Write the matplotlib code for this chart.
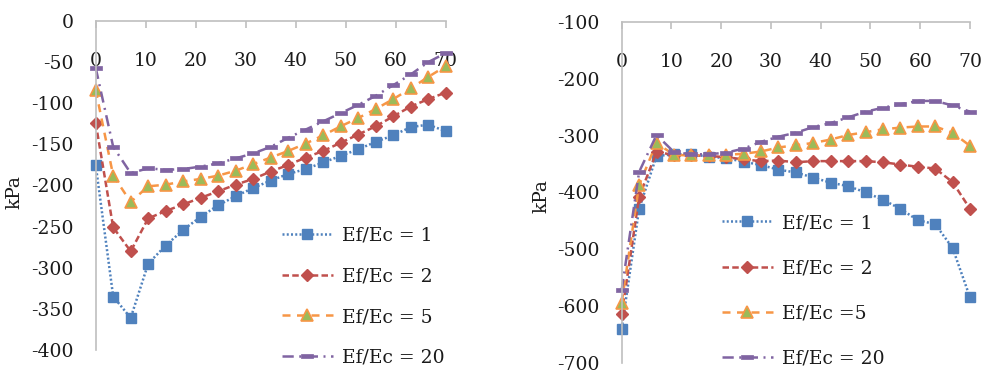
import matplotlib
matplotlib.use("Agg")
import matplotlib.pyplot as plt

plt.rcParams["axes.unicode_minus"] = False

x = [0, 3.5, 7, 10.5, 14, 17.5, 21, 24.5, 28, 31.5, 35, 38.5, 42, 45.5, 49,
     52.5, 56, 59.5, 63, 66.5, 70]

left_r1 = [-175, -335, -361, -295, -273, -254, -238, -224, -213, -203, -194,
           -186, -180, -172, -164, -156, -147, -139, -129, -126, -134]
left_r2 = [-124, -251, -280, -240, -231, -223, -215, -207, -199, -192, -183,
           -175, -166, -158, -148, -138, -128, -116, -104, -95, -87]
left_r5 = [-84, -188, -220, -201, -199, -195, -192, -188, -182, -174, -166,
           -158, -149, -139, -128, -118, -107, -95, -82, -68, -55]
left_r20 = [-57, -153, -185, -179, -181, -180, -177, -173, -167, -161, -153,
            -142, -132, -122, -112, -102, -91, -78, -65, -50, -39]

right_r1 = [-640, -429, -336, -333, -333, -337, -340, -346, -352, -360, -365,
            -374, -383, -389, -400, -413, -429, -449, -456, -498, -585]
right_r2 = [-615, -408, -329, -334, -335, -336, -338, -342, -345, -344, -347,
            -345, -345, -345, -345, -347, -351, -355, -358, -382, -429]
right_r5 = [-594, -387, -313, -334, -335, -335, -334, -332, -328, -321, -317,
            -313, -307, -299, -294, -289, -286, -284, -284, -295, -318]
right_r20 = [-572, -364, -299, -329, -333, -333, -330, -323, -311, -302, -295,
             -285, -278, -268, -258, -251, -245, -239, -239, -247, -258]

left_labels = ["Ef/Ec = 1", "Ef/Ec = 2", "Ef/Ec = 5", "Ef/Ec = 20"]
right_labels = ["Ef/Ec = 1", "Ef/Ec = 2", "Ef/Ec =5", "Ef/Ec = 20"]
x_ticks = [0, 10, 20, 30, 40, 50, 60, 70]
left_yticks = [0, -50, -100, -150, -200, -250, -300, -350, -400]
right_yticks = [-100, -200, -300, -400, -500, -600, -700]
y_label = "kPa"

FONT = "DejaVu Serif"
FS = 13.5
TXT = "#1a1a1a"
AXC = "#bfbfbf"

dash_marker = [(-1, -0.32), (1, -0.32), (1, 0.32), (-1, 0.32), (-1, -0.32)]

styles = [
    dict(color="#4F81BD", ls=(0, (0.8, 0.9)), marker="s", ms=7.5,
         mfc="#4F81BD", mec="#4F81BD", lw=1.8),
    dict(color="#C0504D", ls=(0, (2.6, 1.3)), marker="D", ms=6.5,
         mfc="#C0504D", mec="#C0504D", lw=1.8),
    dict(color="#F79646", ls=(0, (3.2, 2.6)), marker="^", ms=8.5,
         mfc="#9BBB59", mec="#F79646", mew=1.2, lw=1.8),
    dict(color="#8064A2", ls=(0, (4.5, 2.2, 0.8, 2.2)), marker=dash_marker,
         ms=8.5, mfc="#8064A2", mec="#8064A2", mew=0.5, lw=1.8),
]

fig = plt.figure(figsize=(9.85, 3.72), dpi=100)

W, H = 985.0, 372.0


def make_axes(x0, x1, ytop, ybot):
    return fig.add_axes([x0 / W, 1 - ybot / H, (x1 - x0) / W, (ybot - ytop) / H])


def style_axes(ax, ylim, yticks):
    ax.set_xlim(0, 70)
    ax.set_ylim(*ylim)
    ax.set_xticks(x_ticks)
    ax.set_yticks(yticks)
    ax.spines["bottom"].set_visible(False)
    ax.spines["right"].set_visible(False)
    ax.spines["top"].set_color(AXC)
    ax.spines["left"].set_color(AXC)
    ax.spines["top"].set_linewidth(1.2)
    ax.spines["left"].set_linewidth(1.2)
    ax.xaxis.set_ticks_position("top")
    ax.tick_params(axis="x", direction="in", length=5, width=1.2, color=AXC,
                   labeltop=True, labelbottom=False, pad=-35,
                   labelsize=FS, labelcolor=TXT)
    ax.tick_params(axis="y", length=0, pad=16, labelsize=FS, labelcolor=TXT)
    for lab in ax.get_xticklabels() + ax.get_yticklabels():
        lab.set_fontfamily(FONT)
    ax.set_ylabel(y_label, fontfamily=FONT, fontsize=FS, color=TXT)


# Left chart
axL = make_axes(95.7, 445.7, 21, 350)
for ys, lab, st in zip([left_r1, left_r2, left_r5, left_r20], left_labels, styles):
    axL.plot(x, ys, label=lab, clip_on=False, **st)
style_axes(axL, (-400, 0), left_yticks)
axL.yaxis.set_label_coords(-0.205, 0.48)
legL = axL.legend(loc="upper left", bbox_to_anchor=(282 / W, 1 - 227 / H),
                  bbox_transform=fig.transFigure, frameon=False,
                  prop=dict(family=FONT, size=FS), handlelength=2.7,
                  handletextpad=0.5, labelspacing=1.2, borderpad=0,
                  borderaxespad=0)
for t in legL.get_texts():
    t.set_color(TXT)

# Right chart
axR = make_axes(621.7, 970, 22, 362.7)
for ys, lab, st in zip([right_r1, right_r2, right_r5, right_r20], right_labels, styles):
    axR.plot(x, ys, label=lab, clip_on=False, **st)
style_axes(axR, (-700, -100), right_yticks)
axR.yaxis.set_label_coords(-0.205, 0.49)
legR = axR.legend(loc="upper left", bbox_to_anchor=(722 / W, 1 - 214 / H),
                  bbox_transform=fig.transFigure, frameon=False,
                  prop=dict(family=FONT, size=FS), handlelength=2.7,
                  handletextpad=0.5, labelspacing=1.45, borderpad=0,
                  borderaxespad=0)
for t in legR.get_texts():
    t.set_color(TXT)

fig.savefig("out.png", dpi=100)
